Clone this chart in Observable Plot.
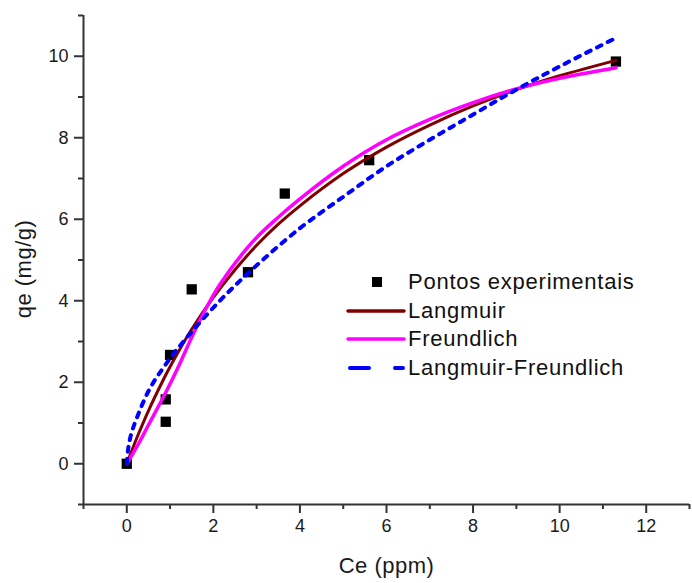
<!DOCTYPE html>
<html><head><meta charset="utf-8">
<script src="https://cdn.jsdelivr.net/npm/d3@7"></script>
<script src="https://cdn.jsdelivr.net/npm/@observablehq/plot@0.6"></script>
<style>
body{margin:0;background:#fff;font-family:"Liberation Sans",Arial,sans-serif;}
#wrap{position:relative;width:692px;height:583px;}
#legend{position:absolute;left:346px;top:268px;font-size:22px;letter-spacing:0.75px;color:#111;}
.row{display:flex;align-items:center;height:28.5px;white-space:nowrap;}
.row svg{width:62px;height:20px;flex:none;}
</style></head><body><div id="wrap"></div>
<script>
// Experimental points
const expCe = [0, 0.9, 0.9, 1.0, 1.5, 2.8, 3.65, 5.6, 11.3];
const expQe = [0, 1.03, 1.58, 2.67, 4.28, 4.7, 6.63, 7.45, 9.87];
// Langmuir fit
const langCe = [0, 0.25, 0.5, 0.83, 1.0, 1.5, 2.0, 2.5, 3.0, 3.5, 4.0, 5.0, 6.0, 7.0, 8.0, 9.0, 10.0, 11.3];
const langQe = [0, 0.68, 1.3, 2.03, 2.38, 3.3, 4.08, 4.76, 5.36, 5.88, 6.33, 7.12, 7.77, 8.31, 8.78, 9.18, 9.52, 9.9];
// Freundlich fit
const freuCe = [0, 0.25, 0.5, 0.92, 1.2, 1.52, 1.8, 2.15, 2.91, 3.5, 4.0, 5.0, 6.0, 7.0, 8.0, 9.0, 10.0, 11.3];
const freuQe = [0, 0.45, 0.95, 1.79, 2.4, 3.15, 3.75, 4.4, 5.45, 6.05, 6.5, 7.3, 7.95, 8.45, 8.86, 9.2, 9.46, 9.72];
// Langmuir-Freundlich fit
const lfCe = [0, 0.03, 0.1, 0.23, 0.53, 0.92, 1.39, 2.15, 2.91, 4.0, 5.0, 6.0, 7.0, 8.0, 9.0, 10.0, 11.3];
const lfQe = [0, 0.35, 0.72, 1.12, 1.84, 2.47, 3.1, 4.0, 4.78, 5.78, 6.55, 7.3, 7.95, 8.57, 9.18, 9.75, 10.45];
// Ticks
const xMajor = [0, 2, 4, 6, 8, 10, 12];
const xMinor = [-1, 1, 3, 5, 7, 9, 11, 13];
const yMajor = [0, 2, 4, 6, 8, 10];
const yMinor = [-1, 1, 3, 5, 7, 9, 11];
const xDomain = [-1, 13];
const yDomain = [-1, 11];
const xLabel = "Ce (ppm)";
const yLabel = "qe (mg/g)";
const seriesNames = ["Pontos experimentais", "Langmuir", "Freundlich", "Langmuir-Freundlich"];
const colors = {lang: "#800000", freu: "#ff00ff", lf: "#0000ff"};

const toRows = (xs, ys) => xs.map((x, i) => ({x, y: ys[i]}));
const expData = toRows(expCe, expQe);
const langData = toRows(langCe, langQe);
const freuData = toRows(freuCe, freuQe);
const lfData = toRows(lfCe, lfQe);

const axisColor = "#333";
const chart = Plot.plot({
  width: 692, height: 583,
  marginLeft: 83, marginRight: 3, marginTop: 15, marginBottom: 79,
  style: {fontFamily: '"Liberation Sans", Arial, sans-serif', fontSize: "18px", color: "#1a1a1a", background: "white", overflow: "visible"},
  x: {domain: xDomain},
  y: {domain: yDomain},
  marks: [
    Plot.axisX({ticks: xMajor, tickSize: 9, tickPadding: 6, strokeWidth: 2, stroke: axisColor, fontSize: 18, label: null}),
    Plot.axisX({ticks: xMinor, tickSize: 5, strokeWidth: 2, stroke: axisColor, tickFormat: () => "", label: null}),
    Plot.axisY({ticks: yMajor, tickSize: 9, tickPadding: 6, strokeWidth: 2, stroke: axisColor, fontSize: 18, label: null}),
    Plot.axisY({ticks: yMinor, tickSize: 5, strokeWidth: 2, stroke: axisColor, tickFormat: () => "", label: null}),
    Plot.ruleX([xDomain[0]], {stroke: axisColor, strokeWidth: 2}),
    Plot.ruleY([yDomain[0]], {stroke: axisColor, strokeWidth: 2}),
    Plot.text([xLabel], {frameAnchor: "bottom", dy: 61, fontSize: 22, lineAnchor: "middle", textAnchor: "middle", fill: "#1a1a1a"}),
    Plot.text([yLabel], {frameAnchor: "left", rotate: -90, dx: -60, dy: 9, fontSize: 22, lineAnchor: "middle", textAnchor: "middle", fill: "#1a1a1a"}),
    Plot.dot(expData, {x: "x", y: "y", symbol: "square", r: 5.8, fill: "black", stroke: "none"}),
    Plot.line(langData, {x: "x", y: "y", stroke: colors.lang, strokeWidth: 3, curve: "catmull-rom"}),
    Plot.line(freuData, {x: "x", y: "y", stroke: colors.freu, strokeWidth: 3.5, curve: "catmull-rom"}),
    Plot.line(lfData, {x: "x", y: "y", stroke: colors.lf, strokeWidth: 4, strokeDasharray: "5,7", strokeLinecap: "round", curve: "catmull-rom"})
  ]
});
d3.select(chart).selectAll("text").filter(function () {
  return this.textContent === xLabel || this.textContent === yLabel;
}).attr("letter-spacing", "0.5px");
const wrap = document.getElementById("wrap");
wrap.appendChild(chart);

const legend = document.createElement("div");
legend.id = "legend";
const swatches = [
  `<rect x="26" y="5" width="10" height="10" fill="black"/>`,
  `<line x1="2" x2="58" y1="10" y2="10" stroke="${colors.lang}" stroke-width="3.5" stroke-linecap="round"/>`,
  `<line x1="2" x2="58" y1="10" y2="10" stroke="${colors.freu}" stroke-width="3.5" stroke-linecap="round"/>`,
  `<line x1="4" x2="57" y1="10" y2="10" stroke="${colors.lf}" stroke-width="4" stroke-linecap="round" stroke-dasharray="19,26,8,100"/>`
];
seriesNames.forEach((name, i) => {
  const row = document.createElement("div");
  row.className = "row";
  row.innerHTML = `<svg viewBox="0 0 62 20">${swatches[i]}</svg><span>${name}</span>`;
  legend.appendChild(row);
});
wrap.appendChild(legend);
</script>
</body></html>
